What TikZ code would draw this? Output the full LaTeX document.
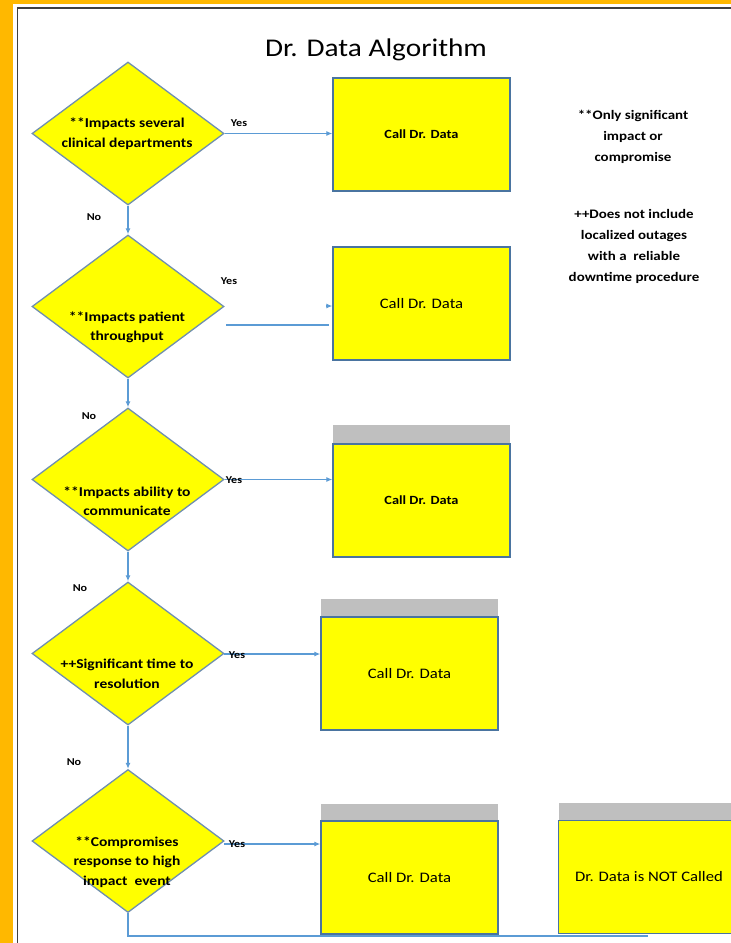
\documentclass[tikz,border=0pt]{standalone}
\usepackage{fontspec}
\setmainfont{Carlito}[FakeStretch=1.15]
\usetikzlibrary{shapes.geometric,arrows.meta}
\definecolor{bgorange}{RGB}{255,184,0}
\definecolor{yel}{RGB}{255,255,0}
\definecolor{conn}{HTML}{5B9BD5}
\definecolor{boxedge}{HTML}{4A74A0}
\definecolor{diaedge}{HTML}{6F8FAF}
\definecolor{hdrgray}{RGB}{191,191,191}
\tikzset{
  dia/.style={diamond, draw=diaedge, line width=1.3pt, fill=yel, inner sep=0pt,
              minimum width=192pt, minimum height=143pt},
  dtext/.style={align=center, font=\bfseries\fontsize{13.5}{19.5}\selectfont, inner sep=0pt},
  ybox/.style={rectangle, draw=boxedge, line width=1.3pt, fill=yel,
               minimum width=177pt, minimum height=113pt, inner sep=0pt},
  hdr/.style={rectangle, fill=hdrgray, minimum width=177pt, minimum height=18pt, inner sep=0pt},
  btext/.style={font=\fontsize{14.5}{17}\selectfont},
  bbtext/.style={font=\bfseries\fontsize{12.5}{15}\selectfont},
  lab/.style={font=\bfseries\fontsize{10.5}{12}\selectfont, inner sep=0pt},
  note/.style={align=center, font=\bfseries\fontsize{13}{21}\selectfont, inner sep=0pt},
  link/.style={draw=conn, line width=1.4pt},
  arr/.style={link, -{Latex[length=6pt,width=5pt]}}
}
\begin{document}
\begin{tikzpicture}[x=1pt,y=-1pt]
\useasboundingbox (0,0) rectangle (731,943);
\fill[bgorange] (0,0) rectangle (731,943);
\fill[white] (13,4) rectangle (731,943);
\draw[color=black!75, line width=1.3pt] (17.5,943) -- (17.5,8) -- (731,8);

% title
\node[font=\fontsize{25.5}{30}\selectfont] (title) at (376,50) {Dr. Data Algorithm};

% diamonds
\node[dia] (d1) at (128,133.5) {};
\node[dia] (d2) at (128,306.5) {};
\node[dia] (d3) at (128,479.5) {};
\node[dia] (d4) at (128,653.5) {};
\node[dia] (d5) at (128,841) {};

\node[dtext] (t1) at (127,133.5) {**Impacts several\\clinical departments};
\node[dtext] (t2) at (127,327.5) {**Impacts patient\\throughput};
\node[dtext] (t3) at (127,501) {**Impacts ability to\\communicate};
\node[dtext] (t4) at (127,674) {++Significant time to\\resolution};
\node[dtext] (t5) at (127,862) {**Compromises\\response to high\\impact\ \ event};

% bottom connector (under boxes)
\coordinate (endc) at (648,936);
\draw[link] (d5.south) |- (endc);

% headers
\node[hdr] (h3) at (421.5,434) {};
\node[hdr] (h4) at (409.5,607.5) {};
\node[hdr] (h5) at (409.5,812.5) {};
\node[hdr] (h6) at (647,812) {};

% boxes
\node[ybox, bbtext] (b1) at (421.5,134.5) {Call Dr. Data};
\node[ybox, btext] (b2) at (421.5,303.5) {Call Dr. Data};
\node[ybox, bbtext] (b3) at (421.5,500.5) {Call Dr. Data};
\node[ybox, btext] (b4) at (409.5,673.5) {Call Dr. Data};
\node[ybox, btext] (b5) at (409.5,877.5) {Call Dr. Data};
\node[ybox, btext] (b6) at (647,877) {\hspace*{4pt}Dr. Data is NOT Called};

% yes connectors
\draw[arr] (d1.east) -- (d1.east -| b1.west);
\coordinate (y2) at (226,325);
\draw[draw=conn, line width=2.4pt] (y2) -- ([xshift=-3pt]y2 -| b2.west);
\coordinate (y2t) at (326,306);
\draw[arr] (y2t) -- (y2t -| b2.west);
\draw[arr] (d3.east) -- (d3.east -| b3.west);
\coordinate (y4) at (224,654);
\draw[arr] (y4) -- (y4 -| b4.west);
\coordinate (y5) at (224,844);
\draw[arr] (y5) -- (y5 -| b5.west);

% no connectors
\draw[arr] (d1.south) -- (d2.north);
\draw[arr] (d2.south) -- (d3.north);
\draw[arr] (d3.south) -- (d4.north);
\draw[arr] (d4.south) -- (d5.north);

% labels
\node[lab] (yes1) at (239,123) {Yes};
\node[lab] (yes2) at (229,281) {Yes};
\node[lab] (yes3) at (234,480) {Yes};
\node[lab] (yes4) at (237,655) {Yes};
\node[lab] (yes5) at (237,844) {Yes};
\node[lab] (no1) at (94,217) {No};
\node[lab] (no2) at (89,416) {No};
\node[lab] (no3) at (80,588) {No};
\node[lab] (no4) at (74,762) {No};

% notes
\node[note] (n1) at (633,137) {**Only significant\\impact or\\compromise};
\node[note] (n2) at (634,246) {++Does not include\\localized outages\\with a\ \ reliable\\downtime procedure};
\end{tikzpicture}
\end{document}
